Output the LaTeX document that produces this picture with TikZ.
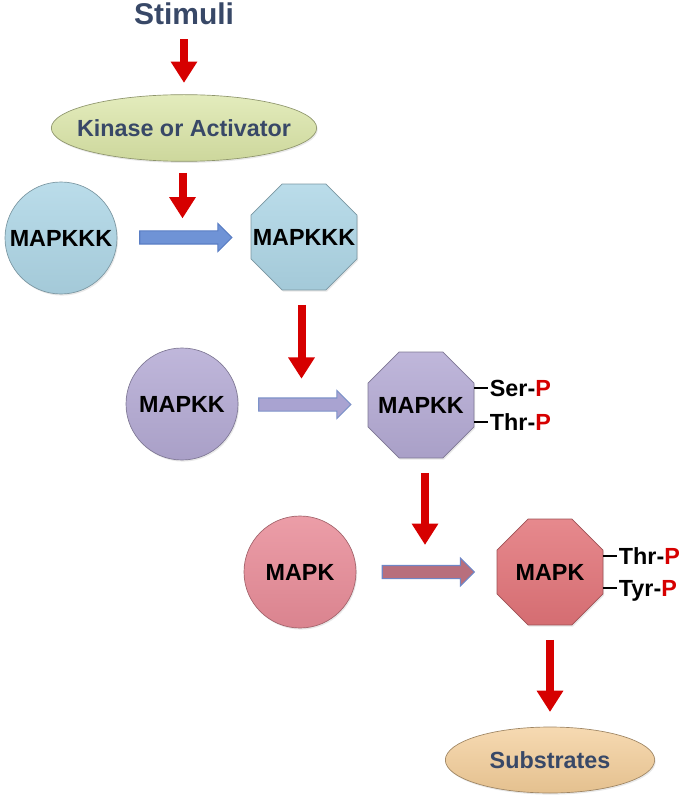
\documentclass[tikz,border=0pt]{standalone}
\usepackage{fontspec}
\setmainfont{Liberation Sans}
\usepackage{xcolor}
\usepackage{tikz}
\usetikzlibrary{shapes,arrows.meta,positioning,calc,shadows}

\definecolor{slate}{HTML}{384867}
\definecolor{sigred}{HTML}{D60000}
\definecolor{kkkblue}{HTML}{AED6E6}
\definecolor{kklilac}{HTML}{B4AAD4}
\definecolor{kpink}{HTML}{E88C98}
\definecolor{kactpink}{HTML}{E27479}
\definecolor{kinasegreen}{HTML}{DAE5A6}
\definecolor{substpeach}{HTML}{F3CD98}
\definecolor{arrowblue}{HTML}{6F93D6}
\definecolor{arrowblueline}{HTML}{5A7EC4}
\definecolor{arrowlilac}{HTML}{A9A3D1}
\definecolor{arrowlilacline}{HTML}{7E93C9}
\definecolor{arrowmauve}{HTML}{B86F7D}
\definecolor{arrowmauveline}{HTML}{6F86C6}

\newcommand{\phos}{\textcolor{sigred}{P}}

\begin{document}
\begin{tikzpicture}[
    x=0.75pt, y=-0.75pt,
    bigfont/.style={font=\fontsize{17.5}{20}\selectfont\bfseries},
    inactive/.style={circle, bigfont, minimum size=84pt, inner sep=0pt,
        draw=#1!70!black, line width=0.5pt,
        top color=#1!85!white, middle color=#1, bottom color=#1!94!black,
        drop shadow={opacity=0.18, shadow xshift=0.8pt, shadow yshift=-1.2pt}},
    active/.style={regular polygon, regular polygon sides=8, bigfont, minimum size=86pt,
        inner xsep=-25pt, inner ysep=0pt,
        draw=#1!70!black, line width=0.5pt,
        top color=#1!85!white, middle color=#1, bottom color=#1!94!black,
        drop shadow={opacity=0.18, shadow xshift=0.8pt, shadow yshift=-1.2pt}},
    oval/.style={ellipse, bigfont, text=slate, inner xsep=-12pt, inner ysep=0pt,
        draw=#1!65!black, line width=0.5pt,
        top color=#1!75!white, middle color=#1, bottom color=#1!94!black,
        drop shadow={opacity=0.18, shadow xshift=0.8pt, shadow yshift=-1.2pt}},
    activation/.style 2 args={single arrow, draw=#2, fill=#1, line width=0.8pt,
        inner xsep=0pt, inner ysep=4.5pt, minimum height=69pt, minimum width=0pt,
        single arrow head extend=5.5pt},
    signal/.style={draw=sigred, line width=6pt, -{Triangle[width=19pt,length=16pt]},
        shorten <=11pt, shorten >=14pt},
    bond/.style={draw=black, line width=2.2pt},
    site/.style={anchor=west, bigfont, inner sep=1pt, text depth=0pt}
]
    \useasboundingbox (0,0) rectangle (680,805);

    \node[font=\fontsize{22.5}{26}\selectfont\bfseries, text=slate] (stimuli) at (184,14) {Stimuli};
    \node[oval=kinasegreen, minimum width=199pt, minimum height=50pt] (kinase) at (184,128) {Kinase or Activator};

    % MAPKKK level
    \node[inactive=kkkblue] (kkk) at (61,238) {MAPKKK};
    \node[active=kkkblue] (kkkact) at (304,237) {MAPKKK};
    \node[activation={arrowblue}{arrowblueline}] (act1) at ($(kkk)!0.5!(kkkact)$) {};

    % MAPKK level
    \node[inactive=kklilac] (kk) at (182,404) {MAPKK};
    \node[active=kklilac] (kkact) at (421,405) {MAPKK};
    \node[activation={arrowlilac}{arrowlilacline}] (act2) at ($(kk)!0.5!(kkact)$) {};

    % MAPK level
    \node[inactive=kpink] (k) at (300,572) {MAPK};
    \node[active=kactpink] (kact) at (550,572) {MAPK};
    \node[activation={arrowmauve}{arrowmauveline}] (act3) at ($(k)!0.5!(kact)$) {};

    \node[oval=substpeach, minimum width=157pt, minimum height=49.5pt] (subst) at (550,760) {Substrates};

    % phosphorylation sites
    \node[site] (kkser) at ([shift={(14,-17)}]kkact.east) {Ser-\phos};
    \node[site] (kkthr) at ([shift={(14,17)}]kkact.east) {Thr-\phos};
    \node[site] (kthr) at ([shift={(14,-16)}]kact.east) {Thr-\phos};
    \node[site] (ktyr) at ([shift={(14,16)}]kact.east) {Tyr-\phos};
    \draw[bond] (kkser.west -| kkact.east) -- (kkser.west);
    \draw[bond] (kkthr.west -| kkact.east) -- (kkthr.west);
    \draw[bond] (kthr.west -| kact.east) -- (kthr.west);
    \draw[bond] (ktyr.west -| kact.east) -- (ktyr.west);

    % signalling arrows
    \draw[signal, shorten <=7pt, shorten >=8.6pt] (stimuli) -- (kinase);
    \draw[signal, shorten <=8.5pt, shorten >=9pt] (act1 |- kinase.south) -- (act1);
    \draw[signal] (act2 |- kkkact.south) -- (act2);
    \draw[signal, shorten >=15pt] (act3 |- kkact.south) -- (act3);
    \draw[signal, shorten >=11pt] (kact) -- (subst);
\end{tikzpicture}
\end{document}
